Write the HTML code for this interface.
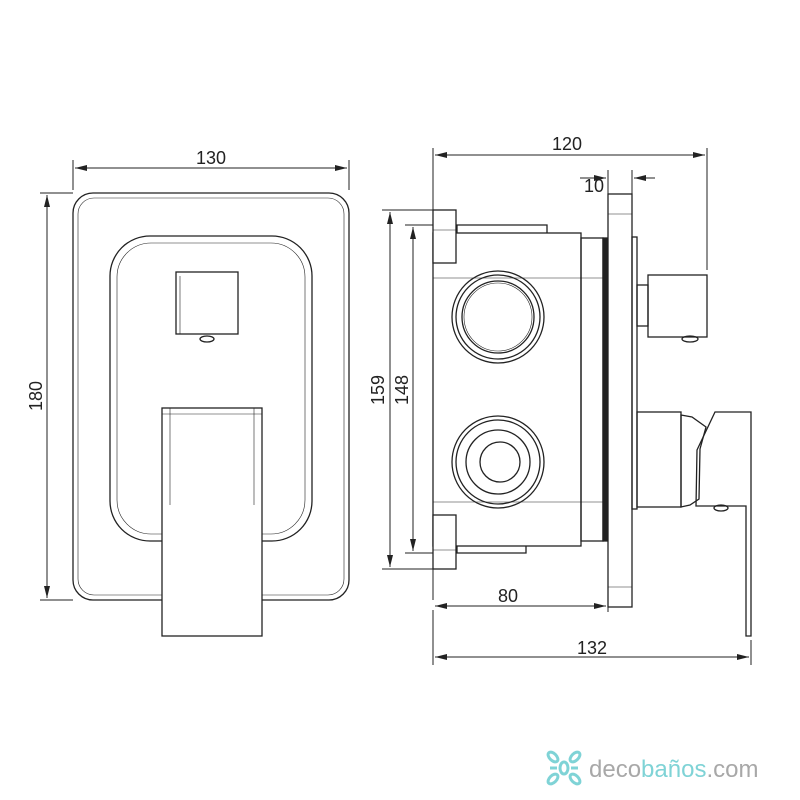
<!DOCTYPE html>
<html><head><style>body{margin:0;background:#fff}svg{display:block}</style></head><body>
<svg width="800" height="800" viewBox="0 0 800 800" xmlns="http://www.w3.org/2000/svg">
<defs><marker id="a" markerWidth="12" markerHeight="6" refX="12" refY="3" orient="auto-start-reverse" markerUnits="userSpaceOnUse"><path d="M0,0L12,3L0,6z" fill="#222"/></marker></defs>
<g fill="none" stroke="#222" stroke-width="1.3">
<!-- front view -->
<rect x="73" y="193" width="276" height="407" rx="20"/>
<rect x="78" y="198" width="266" height="397" rx="16" stroke-width="0.6"/>
<rect x="110" y="236" width="202" height="305" rx="40"/>
<rect x="117" y="243" width="188" height="291" rx="34" stroke-width="0.6"/>
<rect x="176" y="272" width="62" height="62"/>
<line x1="180" y1="276" x2="180" y2="334" stroke-width="0.6"/>
<ellipse cx="207" cy="339" rx="7" ry="3"/>
<rect x="162" y="408" width="100" height="228" fill="#fff"/>
<line x1="170" y1="408" x2="170" y2="505" stroke-width="0.6"/>
<line x1="254" y1="408" x2="254" y2="505" stroke-width="0.6"/>
<line x1="162" y1="414" x2="262" y2="414" stroke-width="0.6"/>
<!-- side view -->
<rect x="433" y="233" width="148" height="313"/>
<line x1="433" y1="278" x2="603" y2="278" stroke-width="0.6"/>
<line x1="433" y1="502" x2="603" y2="502" stroke-width="0.6"/>
<polyline points="457,233 457,225 547,225 547,233"/>
<polyline points="457,546 457,553 526,553 526,546"/>
<rect x="433" y="210" width="23" height="53" fill="#fff"/>
<line x1="433" y1="230" x2="456" y2="230" stroke-width="0.6"/>
<rect x="433" y="515" width="23" height="54" fill="#fff"/>
<line x1="433" y1="550" x2="456" y2="550" stroke-width="0.6"/>
<rect x="581" y="238" width="22" height="303"/>
<rect x="603" y="238" width="4" height="303" fill="#222"/>
<rect x="608" y="194" width="24" height="413"/>
<line x1="608" y1="214" x2="632" y2="214" stroke-width="0.6"/>
<line x1="608" y1="587" x2="632" y2="587" stroke-width="0.6"/>
<rect x="632" y="237" width="5" height="272"/>
<rect x="637" y="285" width="11" height="41"/>
<rect x="648" y="275" width="59" height="62"/>
<ellipse cx="690" cy="339" rx="8" ry="3"/>
<circle cx="498" cy="317" r="46"/><circle cx="498" cy="317" r="42"/><circle cx="498" cy="317" r="36"/><circle cx="498" cy="317" r="34" stroke-width="0.6"/>
<circle cx="498" cy="462" r="46"/><circle cx="498" cy="462" r="42"/><circle cx="498" cy="462" r="32"/><circle cx="500" cy="462" r="20"/>
<rect x="637" y="412" width="44" height="95"/>
<path d="M681,415 L692,417 L706,427 L700,449 L699,499 L690,505 L681,507 Z"/>
<path d="M715,412 L751,412 L751,636 L746,636 L746,506 L696,506 L697,450 Z"/>
<ellipse cx="721" cy="508" rx="7" ry="3"/>
</g>
<!-- dimensions -->
<g stroke="#222" stroke-width="1" fill="none">
<line x1="73" y1="190" x2="73" y2="160"/><line x1="349" y1="190" x2="349" y2="160"/>
<line x1="75" y1="168" x2="347" y2="168" marker-start="url(#a)" marker-end="url(#a)"/>
<line x1="40" y1="193" x2="73" y2="193"/><line x1="40" y1="600" x2="73" y2="600"/>
<line x1="47" y1="195" x2="47" y2="598" marker-start="url(#a)" marker-end="url(#a)"/>
<line x1="433" y1="148" x2="433" y2="600"/><line x1="707" y1="148" x2="707" y2="270"/>
<line x1="435" y1="155" x2="705" y2="155" marker-start="url(#a)" marker-end="url(#a)"/>
<line x1="608" y1="170" x2="608" y2="194"/><line x1="632" y1="170" x2="632" y2="194"/>
<line x1="580" y1="178" x2="606" y2="178" marker-end="url(#a)"/><line x1="655" y1="178" x2="634" y2="178" marker-end="url(#a)"/>
<line x1="382" y1="210" x2="433" y2="210"/><line x1="382" y1="569" x2="433" y2="569"/>
<line x1="390" y1="212" x2="390" y2="567" marker-start="url(#a)" marker-end="url(#a)"/>
<line x1="405" y1="225" x2="433" y2="225"/><line x1="405" y1="553" x2="433" y2="553"/>
<line x1="413" y1="227" x2="413" y2="551" marker-start="url(#a)" marker-end="url(#a)"/>
<line x1="608" y1="600" x2="608" y2="612"/>
<line x1="435" y1="606" x2="606" y2="606" marker-start="url(#a)" marker-end="url(#a)"/>
<line x1="433" y1="610" x2="433" y2="665"/><line x1="751" y1="640" x2="751" y2="665"/>
<line x1="435" y1="657" x2="749" y2="657" marker-start="url(#a)" marker-end="url(#a)"/>
</g>
<g font-family="Liberation Sans, sans-serif" font-size="18" fill="#222" text-anchor="middle">
<text x="211" y="164">130</text>
<text x="567" y="150">120</text>
<text x="594" y="192">10</text>
<text x="508" y="602">80</text>
<text x="592" y="654">132</text>
<text transform="translate(42,396) rotate(-90)">180</text>
<text transform="translate(384,390) rotate(-90)">159</text>
<text transform="translate(408,390) rotate(-90)">148</text>
</g>
<g fill="none" stroke="#7fd3d6" stroke-width="3">
<ellipse cx="553" cy="757" rx="3.5" ry="6" transform="rotate(-45 553 757)"/>
<ellipse cx="575" cy="757" rx="3.5" ry="6" transform="rotate(45 575 757)"/>
<ellipse cx="553" cy="779" rx="3.5" ry="6" transform="rotate(45 553 779)"/>
<ellipse cx="575" cy="779" rx="3.5" ry="6" transform="rotate(-45 575 779)"/>
<ellipse cx="564" cy="768" rx="4" ry="6"/>
<line x1="550" y1="768" x2="557" y2="768"/><line x1="571" y1="768" x2="578" y2="768"/>
</g>
<text x="589" y="777" font-family="Liberation Sans, sans-serif" font-size="24" fill="#a8a8a8">deco<tspan fill="#7fd3d6">baños</tspan>.com</text>
</svg>
</body></html>
